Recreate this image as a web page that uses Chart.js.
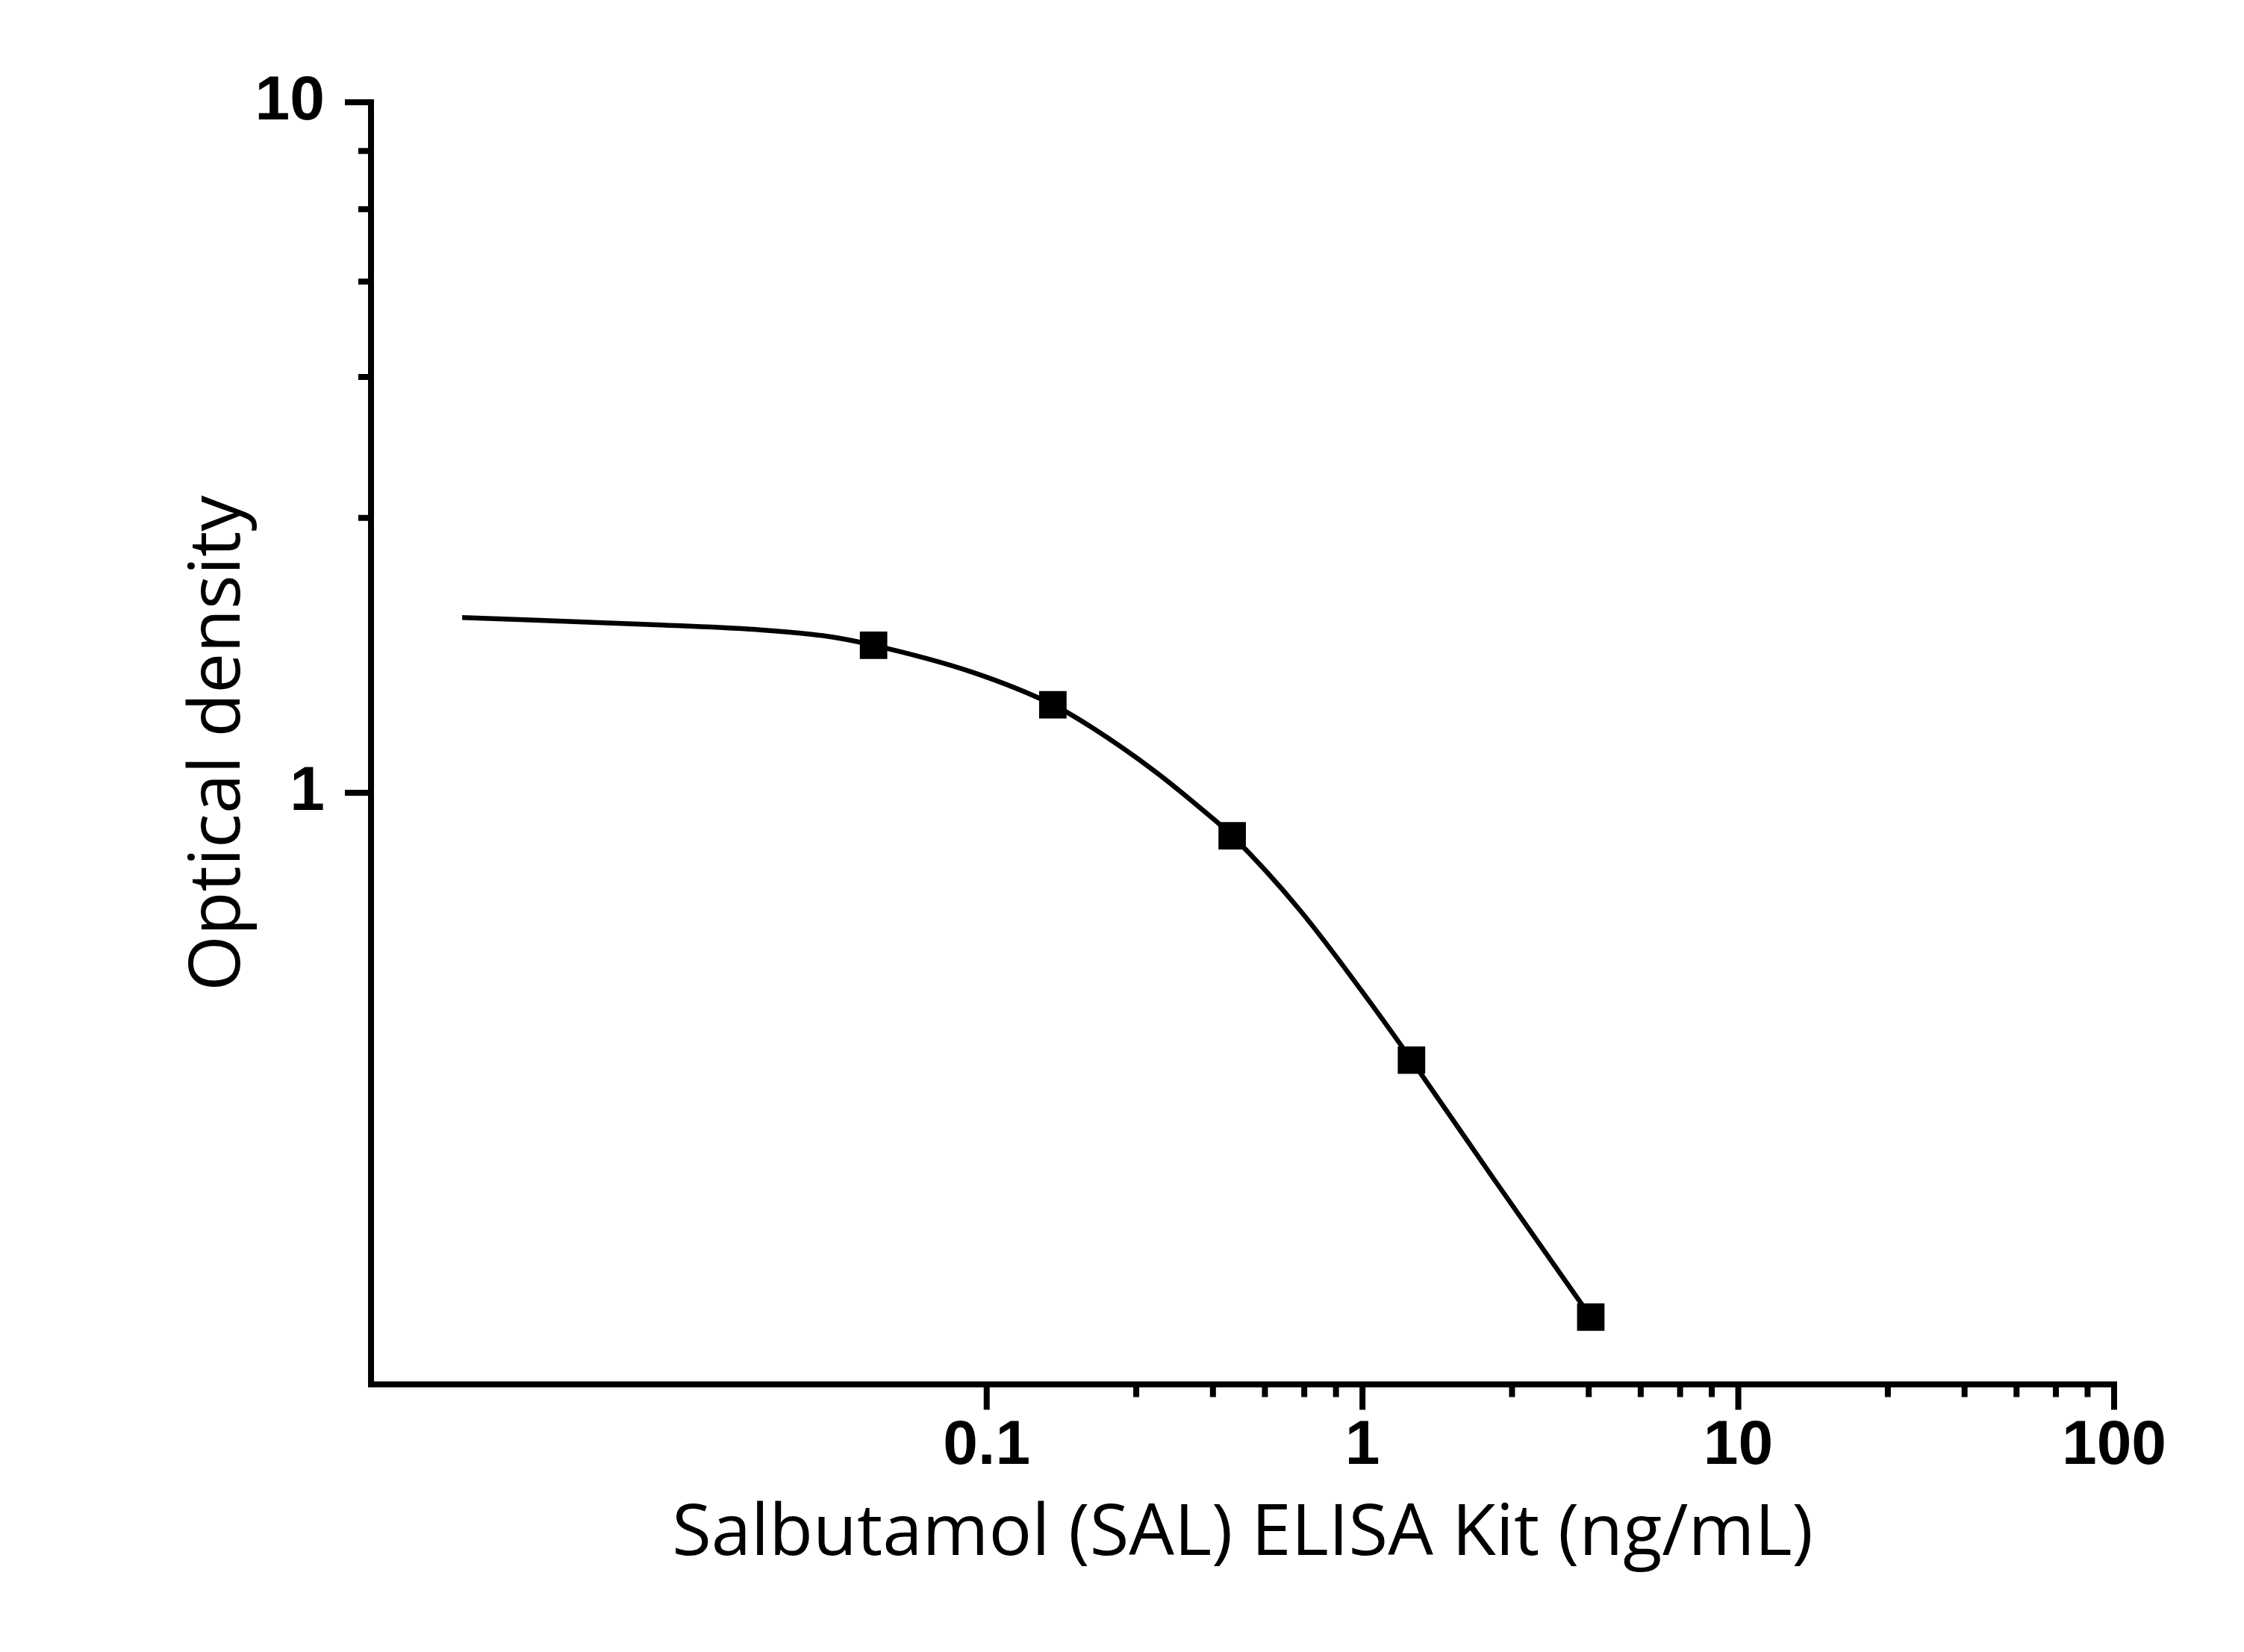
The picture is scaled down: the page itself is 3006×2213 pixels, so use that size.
<!DOCTYPE html>
<html lang="en">
<head>
    <meta charset="UTF-8">
    <title>Salbutamol (SAL) ELISA Kit standard curve</title>
    <style>
        html, body {
            margin: 0;
            padding: 0;
            background-color: #fff;
        }
        #curveChart {
            display: block;
        }
    </style>
    <script src="https://cdn.jsdelivr.net/npm/chart.js"></script>
</head>
<body>
    <canvas id="curveChart" width="3006" height="2213"></canvas>

    <script>
        // Standards (ng/mL) and measured OD
        const concentration = [0.05, 0.15, 0.45, 1.35, 4.05];
        const opticalDensity = [1.635, 1.341, 0.866, 0.410, 0.174];

        // Fitted curve
        const fitConcentration = [0.00402, 0.01285, 0.0244, 0.0367, 0.05, 0.0921, 0.15, 0.1909, 0.2795, 0.3791, 0.45, 0.6828, 1.074, 1.35, 2.196, 4.05];
        const fitDensity = [1.794, 1.752, 1.723, 1.688, 1.635, 1.493, 1.341, 1.242, 1.075, 0.940, 0.866, 0.675, 0.488, 0.410, 0.2796, 0.174];

        // Axis ticks (minor ticks every 1.5 per decade, as in the original)
        const xTickValues = [0.1, 0.25, 0.4, 0.55, 0.7, 0.85, 1, 2.5, 4, 5.5, 7, 8.5, 10, 25, 40, 55, 70, 85, 100];
        const xTickLabels = ['0.1', '1', '10', '100'];
        const yTickValues = [1, 2.5, 4, 5.5, 7, 8.5, 10];
        const yTickLabels = ['1', '10'];

        const xRange = [0.0023, 100];
        const yRange = [0.139, 10];

        const tickFont = { family: '"Liberation Sans", Arial, sans-serif', size: 84, weight: 'bold' };
        const titleFont = { family: '"Open Sans", "Noto Sans", sans-serif', size: 96, weight: 'normal' };

        function isMajor(v, labels) {
            return labels.indexOf(String(v)) !== -1;
        }

        // axis lines and the long/short tick marks
        const axisPlugin = {
            id: 'originAxes',
            afterDraw(chart) {
                const ctx = chart.ctx;
                const area = chart.chartArea;
                const xs = chart.scales.x;
                const ys = chart.scales.y;
                const w = 8;
                ctx.save();
                ctx.strokeStyle = '#000';
                ctx.lineWidth = w;
                ctx.lineCap = 'butt';

                ctx.beginPath();
                ctx.moveTo(area.left, area.top - w / 2);
                ctx.lineTo(area.left, area.bottom + w / 2);
                ctx.moveTo(area.left - w / 2, area.bottom);
                ctx.lineTo(area.right + w / 2, area.bottom);
                ctx.stroke();

                ctx.beginPath();
                xTickValues.forEach(v => {
                    const px = xs.getPixelForValue(v);
                    const len = isMajor(v, xTickLabels) ? 34 : 17;
                    ctx.moveTo(px, area.bottom);
                    ctx.lineTo(px, area.bottom + len);
                });
                yTickValues.forEach(v => {
                    const py = ys.getPixelForValue(v);
                    const len = isMajor(v, yTickLabels) ? 35 : 17;
                    ctx.moveTo(area.left, py);
                    ctx.lineTo(area.left - len, py);
                });
                ctx.stroke();
                ctx.restore();
            }
        };

        document.addEventListener('DOMContentLoaded', () => {
            const ctx = document.getElementById('curveChart').getContext('2d');

            new Chart(ctx, {
                data: {
                    datasets: [{
                        type: 'scatter',
                        label: 'Standards',
                        data: concentration.map((c, i) => ({ x: c, y: opticalDensity[i] })),
                        pointStyle: 'rect',
                        pointRadius: 26,
                        pointHoverRadius: 26,
                        pointBackgroundColor: '#000',
                        pointBorderWidth: 0,
                        showLine: false,
                        order: 0
                    }, {
                        type: 'line',
                        label: 'Fit',
                        data: fitConcentration.map((c, i) => ({ x: c, y: fitDensity[i] })),
                        borderColor: '#000',
                        borderWidth: 6.5,
                        pointRadius: 0,
                        fill: false,
                        cubicInterpolationMode: 'monotone',
                        order: 1
                    }]
                },
                options: {
                    responsive: false,
                    devicePixelRatio: 1,
                    animation: false,
                    layout: {
                        padding: { top: 137, right: 174, left: 0, bottom: 0 }
                    },
                    plugins: {
                        legend: { display: false },
                        tooltip: { enabled: false }
                    },
                    scales: {
                        x: {
                            type: 'logarithmic',
                            position: 'bottom',
                            min: xRange[0],
                            max: xRange[1],
                            grid: { display: false, drawTicks: false },
                            border: { display: false },
                            afterBuildTicks: scale => {
                                scale.ticks = xTickValues.map(v => ({ value: v }));
                            },
                            afterFit: scale => {
                                scale.height = 358.5;
                            },
                            ticks: {
                                autoSkip: false,
                                maxRotation: 0,
                                minRotation: 0,
                                padding: 33,
                                color: '#000',
                                font: tickFont,
                                callback: value => isMajor(value, xTickLabels) ? String(value) : ''
                            },
                            title: {
                                display: true,
                                text: 'Salbutamol (SAL) ELISA Kit (ng/mL)',
                                color: '#000',
                                font: titleFont,
                                padding: { top: 0, bottom: 100 }
                            }
                        },
                        y: {
                            type: 'logarithmic',
                            position: 'left',
                            min: yRange[0],
                            max: yRange[1],
                            grid: { display: false, drawTicks: false },
                            border: { display: false },
                            afterBuildTicks: scale => {
                                scale.ticks = yTickValues.map(v => ({ value: v }));
                            },
                            afterFit: scale => {
                                scale.width = 497;
                            },
                            ticks: {
                                autoSkip: false,
                                padding: 62,
                                color: '#000',
                                font: tickFont,
                                callback: value => isMajor(value, yTickLabels) ? String(value) : ''
                            },
                            title: {
                                display: true,
                                text: 'Optical density',
                                color: '#000',
                                font: titleFont,
                                padding: { top: 236, bottom: 0 }
                            }
                        }
                    }
                },
                plugins: [axisPlugin]
            });
        });
    </script>
</body>
</html>
